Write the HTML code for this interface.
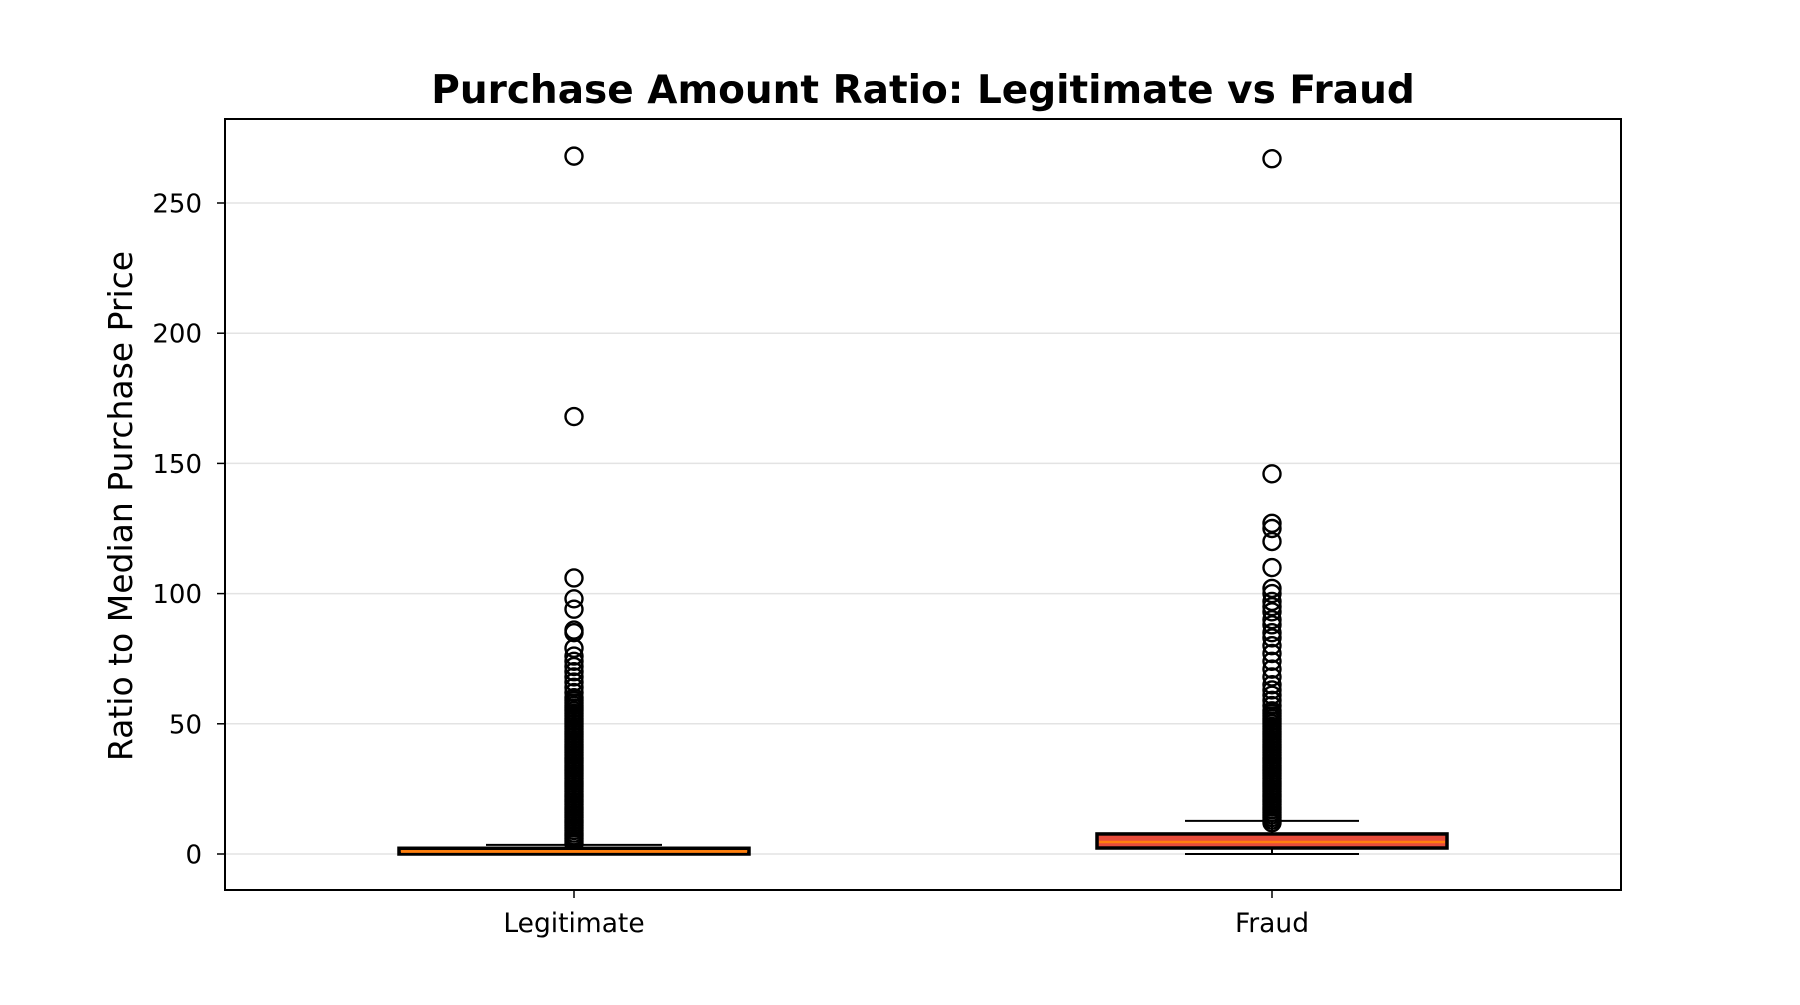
<!DOCTYPE html>
<html><head><meta charset="utf-8"><style>
body{margin:0;background:#fff;}
svg text{font-family:"DejaVu Sans","Liberation Sans",sans-serif;fill:#000;}
</style></head><body>
<svg id="chart" width="1800" height="1000" xmlns="http://www.w3.org/2000/svg">
<rect width="1800" height="1000" fill="#fff"/>
<text x="923" y="103" font-size="39" font-weight="bold" text-anchor="middle">Purchase Amount Ratio: Legitimate vs Fraud</text>
<text transform="translate(132,506) rotate(-90)" font-size="33" text-anchor="middle">Ratio to Median Purchase Price</text>
<g id="grid"></g><g id="marks"></g><g id="axes"></g>
</svg>
<script>
const categories = ["Legitimate","Fraud"];
const q1 = [0.0, 2.3];
const medians = [0.9, 4.6];
const q3 = [2.2, 7.7];
const whiskLow = [0, 0];
const whiskHigh = [3.5, 12.7];
const boxFill = ["#ff7f0e","#e74c3c"];
const yTicks = [0,50,100,150,200,250];
const outliersLegit = [4,5,6,7,8,9,10,11,12,13,14,15,16,17,18,19,20,21,22,23,24,25,26,27,28,29,30,31,32,33,34,35,36,37,38,39,40,41,42,43,44,45,46,47,48,49,50,51,52,53,54,55,56,57,58,59,60,62,64,66,68,70,72,74,76,79,85,86,94,98,106,168,268];
const outliersFraud = [12,13,14,15,16,17,18,19,20,21,22,23,24,25,26,27,28,29,30,31,32,33,34,35,36,37,38,39,40,41,42,43,44,45,46,47,48,49,50,51,52,53,54,55,57,59,61,63,65,68,71,74,77,80,83,85,88,90,93,95,97,100,102,110,120,125,127,146,267];
const outliers = [outliersLegit, outliersFraud];

const L=225,R=1621,T=119,B=890;
const yScale = v => 854 - v*2.604;
const xScale = i => [574,1272][i];
const boxHalf=[175,175], capHalf=[88,87];
const NS="http://www.w3.org/2000/svg";
function mk(tag, parent, attrs){const e=document.createElementNS(NS,tag);for(const k in attrs)e.setAttribute(k,attrs[k]);document.getElementById(parent).appendChild(e);return e;}

yTicks.forEach(t=>{
  const y=yScale(t);
  const g=mk('line','grid',{x1:L,x2:R,y1:y,y2:y,stroke:'#e3e3e3','stroke-width':1.5});
  
  
  const tk=mk('line','axes',{x1:L-8,x2:L,y1:y,y2:y,stroke:'#000','stroke-width':1.5});
  
  
  const tx=mk('text','axes',{x:L-23,y:y+9.5,'font-size':26,'text-anchor':'end'});
  tx.textContent=t;
  
  
});
categories.forEach((c,i)=>{
  const x=xScale(i), hw=boxHalf[i], cap=capHalf[i];
  const w1=mk('line','marks',{x1:x,x2:x,y1:yScale(q1[i]),y2:yScale(whiskLow[i]),stroke:'#000','stroke-width':2});
  
  
  const w2=mk('line','marks',{x1:x,x2:x,y1:yScale(q3[i]),y2:yScale(whiskHigh[i]),stroke:'#000','stroke-width':2});
  
  
  [whiskLow[i],whiskHigh[i]].forEach((v,k)=>{
    const cp=mk('line','marks',{x1:x-cap,x2:x+cap,y1:yScale(v),y2:yScale(v),stroke:'#000','stroke-width':2});
    
    
  });
  outliers[i].forEach(v=>{
    const o=mk('circle','marks',{cx:x,cy:yScale(v),r:8.5,fill:'none',stroke:'#000','stroke-width':2.4});
    
    
  });
  const y3=yScale(q3[i]), y1=yScale(q1[i]);
  const b=mk('rect','marks',{x:x-hw,y:Math.min(y3,y1),width:2*hw,height:Math.abs(y1-y3),fill:boxFill[i],stroke:'#000','stroke-width':3.5});
  
  
  const m=mk('line','marks',{x1:x-hw+2,x2:x+hw-2,y1:yScale(medians[i]),y2:yScale(medians[i]),stroke:'#ff7f0e','stroke-width':2.5});
  
  
  const tk=mk('line','axes',{x1:x,x2:x,y1:B,y2:B+8,stroke:'#000','stroke-width':1.5});
  
  
  const tx=mk('text','axes',{x:x,y:932,'font-size':26.5,'text-anchor':'middle'});
  tx.textContent=c;
  
  
});
const frame=mk('rect','axes',{x:L,y:T,width:R-L,height:B-T,fill:'none',stroke:'#000','stroke-width':2});


</script>
</body></html>
